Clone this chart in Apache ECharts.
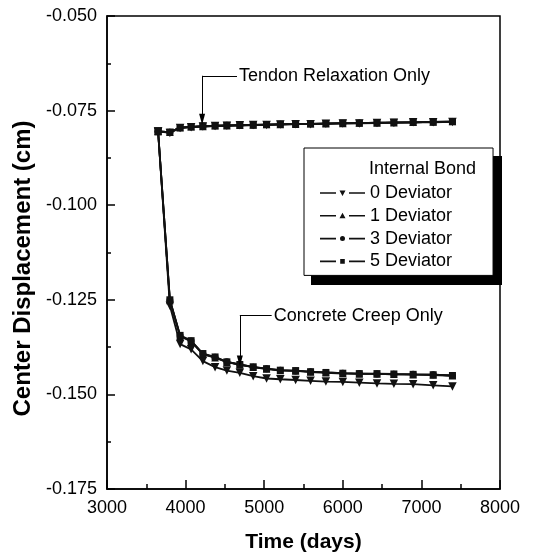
<!DOCTYPE html>
<html>
<head>
<meta charset="utf-8">
<script src="https://cdn.jsdelivr.net/npm/echarts@6/dist/echarts.min.js"></script>
<style>
  html, body { margin: 0; padding: 0; background: #fff; }
  #chart { width: 533px; height: 558px; }
</style>
</head>
<body>
<div id="chart"></div>
<script>
// Time after tensioning (days)
const days = [3650, 3800, 3930, 4070, 4220, 4375, 4525, 4690, 4860, 5030, 5205,
              5400, 5590, 5785, 6000, 6210, 6435, 6650, 6895, 7150, 7395];

// Center displacement (cm) with tendon relaxation only
const relax0 = [-0.0805, -0.0809, -0.0796, -0.0794, -0.0792, -0.0791, -0.0790, -0.0789, -0.0788, -0.0788, -0.0787,
                -0.0786, -0.0786, -0.0785, -0.0784, -0.0784, -0.0783, -0.0782, -0.0781, -0.0781, -0.0780];
const relax1 = [-0.0805, -0.0807, -0.0795, -0.0793, -0.0792, -0.0790, -0.0790, -0.0789, -0.0788, -0.0787, -0.0787,
                -0.0786, -0.0785, -0.0785, -0.0784, -0.0783, -0.0783, -0.0782, -0.0781, -0.0780, -0.0779];
const relax3 = [-0.0805, -0.0807, -0.0795, -0.0793, -0.0791, -0.0790, -0.0789, -0.0789, -0.0788, -0.0787, -0.0786,
                -0.0786, -0.0785, -0.0784, -0.0784, -0.0783, -0.0782, -0.0782, -0.0781, -0.0780, -0.0779];
const relax5 = [-0.0805, -0.0807, -0.0795, -0.0793, -0.0791, -0.0790, -0.0789, -0.0788, -0.0788, -0.0787, -0.0786,
                -0.0785, -0.0785, -0.0784, -0.0783, -0.0783, -0.0782, -0.0781, -0.0781, -0.0780, -0.0779];

// Center displacement (cm) with concrete creep only
const creep0 = [-0.0805, -0.1266, -0.1367, -0.1381, -0.1412, -0.1428, -0.1437, -0.1443, -0.1452, -0.1458, -0.1460,
                -0.1462, -0.1464, -0.1466, -0.1467, -0.1469, -0.1471, -0.1472, -0.1473, -0.1476, -0.1479];
const creep1 = [-0.0805, -0.1252, -0.1346, -0.1360, -0.1394, -0.1403, -0.1415, -0.1422, -0.1428, -0.1433, -0.1437,
                -0.1438, -0.1441, -0.1443, -0.1445, -0.1446, -0.1446, -0.1447, -0.1448, -0.1449, -0.1451];
const creep3 = [-0.0805, -0.1251, -0.1345, -0.1359, -0.1393, -0.1402, -0.1414, -0.1421, -0.1428, -0.1432, -0.1436,
                -0.1438, -0.1440, -0.1442, -0.1444, -0.1445, -0.1446, -0.1447, -0.1447, -0.1448, -0.1450];
const creep5 = [-0.0805, -0.1250, -0.1344, -0.1358, -0.1392, -0.1401, -0.1414, -0.1421, -0.1427, -0.1432, -0.1436,
                -0.1437, -0.1440, -0.1442, -0.1444, -0.1445, -0.1445, -0.1446, -0.1447, -0.1448, -0.1450];

const legendNames = ['0 Deviator', '1 Deviator', '3 Deviator', '5 Deviator'];
const legendTitle = 'Internal Bond';

// Callout anchors in data units: corner, text start and arrow tip
const relaxCallout = { text: 'Tendon Relaxation Only', x: 4210, y: -0.0658, textX: 4654, tipY: -0.0773 };
const creepCallout = { text: 'Concrete Creep Only', x: 4690, y: -0.1292, textX: 5095, tipY: -0.1412 };

const FONT = '"Liberation Sans", Arial, Helvetica, sans-serif';
const INK = '#000';
const LINE = '#111';

const markerStyle = {
  '0 Deviator': { symbol: 'triangle', symbolRotate: 180, symbolSize: 8.5 },
  '1 Deviator': { symbol: 'triangle', symbolRotate: 0, symbolSize: 7.5 },
  '3 Deviator': { symbol: 'circle', symbolRotate: 0, symbolSize: 7 },
  '5 Deviator': { symbol: 'rect', symbolRotate: 0, symbolSize: 7 }
};

// Legend keys: a short line, a small marker, a short line (45 x 6 box)
const LEG_L = 'M0 2.2 L16 2.2 L16 3.8 L0 3.8 Z ';
const LEG_R = ' M29 2.2 L45 2.2 L45 3.8 L29 3.8 Z';
const legendIcons = {
  '0 Deviator': 'path://' + LEG_L + 'M19.5 0.5 L25.5 0.5 L22.5 6 Z' + LEG_R + ' M0 0 L0.01 0 L0.01 0.01 Z',
  '1 Deviator': 'path://' + LEG_L + 'M22.5 0 L25.5 5.5 L19.5 5.5 Z' + LEG_R + ' M0 6 L0.01 6 L0.01 5.99 Z',
  '3 Deviator': 'path://' + LEG_L + 'M20 3 A2.5 2.5 0 1 0 25 3 A2.5 2.5 0 1 0 20 3 Z' + LEG_R + ' M0 0 L0.01 0 L0.01 0.01 Z M0 6 L0.01 6 L0.01 5.99 Z',
  '5 Deviator': 'path://' + LEG_L + 'M20.2 0.7 L24.8 0.7 L24.8 5.3 L20.2 5.3 Z' + LEG_R + ' M0 0 L0.01 0 L0.01 0.01 Z M0 6 L0.01 6 L0.01 5.99 Z'
};

function pairs(values) {
  return days.map((d, i) => [d, values[i]]);
}

function calloutLines(c) {
  return {
    silent: true,
    animation: false,
    symbol: ['none', 'none'],
    lineStyle: { color: INK, width: 1, type: 'solid' },
    label: { show: false },
    emphasis: { disabled: true },
    data: [
      [
        { coord: [c.x, c.y], symbol: 'none' },
        { coord: [c.textX, c.y], symbol: 'none',
          label: { show: true, position: 'end', formatter: c.text, distance: 2,
                   color: INK, fontSize: 18, fontFamily: FONT } }
      ],
      [
        { coord: [c.x, c.y], symbol: 'none' },
        { coord: [c.x, c.tipY], symbol: 'triangle', symbolSize: [6, 11] }
      ]
    ]
  };
}

function makeSeries(name, values, extra) {
  const m = markerStyle[name];
  return Object.assign({
    name: name,
    type: 'line',
    data: pairs(values),
    symbol: m.symbol,
    symbolRotate: m.symbolRotate,
    symbolSize: m.symbolSize,
    showAllSymbol: true,
    lineStyle: { color: LINE, width: 1.8 },
    itemStyle: { color: LINE },
    emphasis: { disabled: true },
    animation: false,
    z: 3
  }, extra || {});
}

const series = [
  makeSeries('5 Deviator', relax5),
  makeSeries('1 Deviator', relax1),
  makeSeries('3 Deviator', relax3),
  makeSeries('0 Deviator', relax0, { markLine: calloutLines(relaxCallout) }),
  makeSeries('0 Deviator', creep0),
  makeSeries('1 Deviator', creep1),
  makeSeries('3 Deviator', creep3),
  makeSeries('5 Deviator', creep5, { markLine: calloutLines(creepCallout) })
];

const chart = echarts.init(document.getElementById('chart'), null, { renderer: 'canvas' });

chart.setOption({
  backgroundColor: '#fff',
  animation: false,
  textStyle: { fontFamily: FONT, color: INK },
  title: {
    text: legendTitle,
    left: 369, top: 160, padding: 0, z: 10,
    textStyle: { fontFamily: FONT, fontSize: 18, fontWeight: 'normal', color: INK }
  },
  // solid drop shadow behind the legend box
  graphic: [{
    type: 'rect', z: 1, silent: true,
    shape: { x: 311, y: 156, width: 191, height: 129 },
    style: { fill: INK }
  }],
  legend: {
    data: legendNames.map(n => ({ name: n, icon: legendIcons[n] })),
    orient: 'vertical',
    left: 304, top: 148, z: 5,
    padding: [36, 41, 5, 16],
    itemWidth: 45, itemHeight: 6, itemGap: 4.8,
    selectedMode: false,
    backgroundColor: '#fff',
    borderColor: INK, borderWidth: 1,
    textStyle: { fontFamily: FONT, fontSize: 18, color: INK }
  },
  grid: {
    left: 107, right: 33, top: 16, bottom: 66,
    show: true, borderColor: INK, borderWidth: 1.5, backgroundColor: 'transparent'
  },
  xAxis: {
    type: 'value',
    min: 3000, max: 8000, interval: 1000,
    name: 'Time (days)', nameLocation: 'middle', nameGap: 43,
    nameTextStyle: { fontFamily: FONT, fontSize: 21, fontWeight: 'bold', color: INK },
    axisLine: { show: true, lineStyle: { color: INK, width: 1.5 } },
    axisTick: { show: true, inside: true, length: 9, lineStyle: { color: INK, width: 1.5 } },
    minorTick: { show: true, splitNumber: 2, length: 5, lineStyle: { color: INK, width: 1.5 } },
    axisLabel: { fontFamily: FONT, fontSize: 18, color: INK, margin: 10,
                 formatter: v => String(v) },
    splitLine: { show: false }
  },
  yAxis: {
    type: 'value',
    min: -0.175, max: -0.050, interval: 0.025,
    name: 'Center Displacement (cm)', nameLocation: 'middle', nameGap: 71,
    nameTextStyle: { fontFamily: FONT, fontSize: 24, fontWeight: 'bold', color: INK,
                     padding: [0, 32, 0, 0] },
    axisLine: { show: true, lineStyle: { color: INK, width: 1.5 } },
    axisTick: { show: true, inside: true, length: 8, lineStyle: { color: INK, width: 1.5 } },
    minorTick: { show: true, splitNumber: 2, length: 4, lineStyle: { color: INK, width: 1.5 } },
    axisLabel: { fontFamily: FONT, fontSize: 18, color: INK, margin: 10,
                 formatter: v => v.toFixed(3) },
    splitLine: { show: false }
  },
  series: series
});
</script>
</body>
</html>
